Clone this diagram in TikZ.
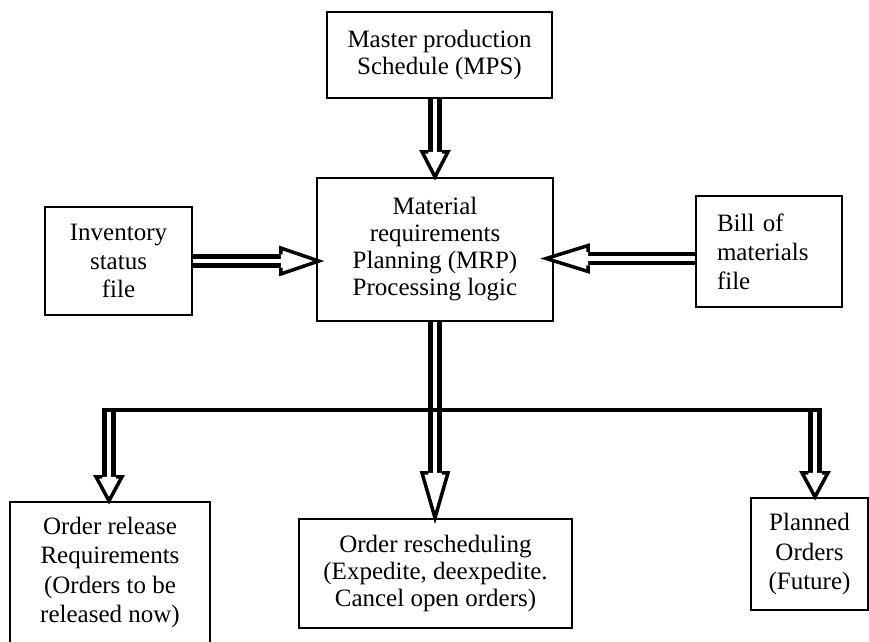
\documentclass[tikz,border=0pt]{standalone}
\usepackage{fontspec}
\setmainfont{Liberation Serif}
\usetikzlibrary{calc}
\begin{document}
\begin{tikzpicture}[x=1pt,y=-1pt,
  box/.style={draw, line width=2.4pt, align=center, inner sep=0pt,
    font=\fontsize{25}{27}\selectfont},
  shaft/.style={line width=4.5pt, double=white, double distance=4.5pt},
  bus/.style={line width=4.5pt},
  headlen/.store in=\hlen, headlen=25,
  dhead/.pic={
    \fill[white] (0,0) -- (-\hlen,13) -- (-\hlen,-13) -- cycle;
    \draw[line width=3.5pt, line join=miter, miter limit=5]
      (-\hlen,6.75) -- (-\hlen,13) -- (0,0) -- (-\hlen,-13) -- (-\hlen,-6.75);
  }]
% page
\fill[white] (0,0) rectangle (869,641);
\useasboundingbox (0,0) rectangle (869,641);

% boxes
\node[box, minimum width=225pt, minimum height=86pt] (mps) at (439.5,55)
  {Master production\\Schedule (MPS)};
\node[box, minimum width=236pt, minimum height=143pt] (mrp) at (435,249.5)
  {Material\\requirements\\Planning (MRP)\\Processing logic};
\node[box, minimum width=147pt, minimum height=108pt,
  font=\fontsize{25}{28.5}\selectfont] (inv) at (118.5,261)
  {Inventory\\status\\file};
\node[box, minimum width=146pt, minimum height=111pt, text width=104pt,
  align=left, inner xsep=21pt, font=\fontsize{25}{29}\selectfont] (bom) at (769,251.5)
  {Bill of\\materials\\file};
\node[box, minimum width=200pt, minimum height=141pt,
  font=\fontsize{25}{29.5}\selectfont] (rel) at (110,572.5)
  {Order release\\Requirements\\(Orders to be\\released now)};
\node[box, minimum width=273pt, minimum height=109pt] (res) at (435.5,573.5)
  {Order rescheduling\\(Expedite, deexpedite.\\Cancel open orders)};
\node[box, minimum width=117pt, minimum height=112pt,
  font=\fontsize{25}{29.5}\selectfont] (pla) at (809.5,554)
  {Planned\\Orders\\(Future)};

% MPS -> MRP
\draw[shaft] (mrp.north |- mps.south) -- ($(mrp.north)+(0,-25)$);
\pic[rotate=-90, headlen=25] at (mrp.north) {dhead};

% inventory status file -> MRP
\coordinate (tipA) at ($(inv.east -| mrp.west)+(3,0)$);
\draw[shaft] (inv.east) -- ($(tipA)+(-38,0)$);
\pic[headlen=38] at (tipA) {dhead};

% bill of materials file -> MRP
\coordinate (srcB) at ($(bom.west)+(0,7)$);
\coordinate (tipB) at ($(srcB -| mrp.east)+(-8,0)$);
\draw[shaft] (srcB) -- ($(tipB)+(42,0)$);
\pic[rotate=180, headlen=42] at (tipB) {dhead};

% MRP outputs: distribution bus and three branches
\coordinate (busC) at ($(mrp.south)+(0,88)$);
\coordinate (busL) at ($(rel.north |- busC)+(-1,0)$);
\coordinate (busR) at ($(pla.north |- busC)+(5.5,0)$);

\draw[shaft] (mrp.south) -- ($(mrp.south |- res.north)+(0,-45)$);
\pic[rotate=-90, headlen=45] at (mrp.south |- res.north) {dhead};

\draw[shaft] (busL) -- ($(busL |- rel.north)+(0,-24)$);
\pic[rotate=-90, headlen=24] at (busL |- rel.north) {dhead};

\draw[shaft] (busR) -- ($(busR |- pla.north)+(0,-24)$);
\pic[rotate=-90, headlen=24] at (busR |- pla.north) {dhead};

\draw[bus] ($(busL)+(-7,0)$) -- ($(busR)+(7,0)$);
\end{tikzpicture}
\end{document}
